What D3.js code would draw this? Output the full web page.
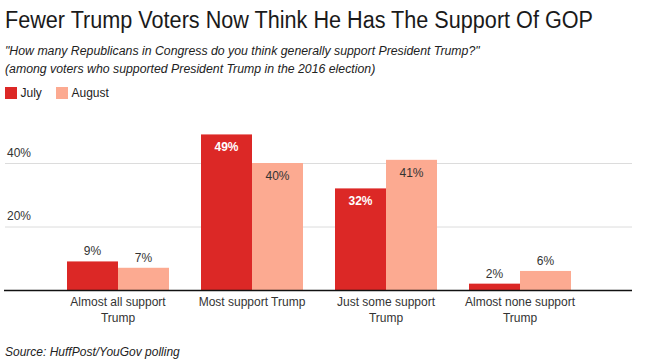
<!DOCTYPE html>
<html><head><meta charset="utf-8">
<script src="https://cdn.jsdelivr.net/npm/d3@7"></script>
<style>body{margin:0;background:#fff}svg{display:block;font-family:"Liberation Sans",Arial,Helvetica,sans-serif}</style>
</head><body><svg id="c" width="657" height="362"></svg>
<script>
const categories = [["Almost all support","Trump"],["Most support Trump"],["Just some support","Trump"],["Almost none support","Trump"]];
const seriesNames = ["July","August"];
const july = [9,49,32,2];
const august = [7,40,41,6];
const yTicks = [20,40];
const colors = ["#dc2826","#fcaa91"];

const svg = d3.select("#c");
const catKeys = categories.map(d=>d.join(" "));
const x0 = d3.scaleBand().domain(catKeys).range([51,587]).paddingInner(0.2388).paddingOuter(0.1194);
const x1 = d3.scaleBand().domain(seriesNames).range([0,x0.bandwidth()]);
const y = d3.scaleLinear().domain([0,50]).range([290,131.25]);

// title
svg.append("text").attr("x",5).attr("y",27.5).attr("font-size",23.5).attr("fill","#1a1a1a")
  .attr("textLength",588).attr("lengthAdjust","spacingAndGlyphs")
  .text("Fewer Trump Voters Now Think He Has The Support Of GOP");
svg.append("text").attr("x",5).attr("y",54.5).attr("font-size",12.3).attr("font-style","italic").attr("fill","#222")
  .text("\"How many Republicans in Congress do you think generally support President Trump?\"");
svg.append("text").attr("x",5).attr("y",72.5).attr("font-size",12.3).attr("font-style","italic").attr("fill","#222")
  .text("(among voters who supported President Trump in the 2016 election)");

// legend
const leg = svg.append("g");
const legX = [5,56];
seriesNames.forEach((s,i)=>{
  leg.append("rect").attr("x",legX[i]).attr("y",87).attr("width",12).attr("height",12).attr("fill",colors[i]);
  leg.append("text").attr("x",legX[i]+15.5).attr("y",97).attr("font-size",12).attr("fill","#222").text(s);
});

// gridlines
const yAxis = d3.axisLeft(y).tickValues(yTicks).tickSize(-627).tickFormat(d=>d+"%");
const ga = svg.append("g").attr("transform","translate(5,0)").call(yAxis);
ga.select(".domain").remove();
ga.selectAll(".tick line").attr("stroke","#dcdcdc").attr("stroke-width",1);
ga.selectAll(".tick text").attr("x",2).attr("dy","-0.55em").attr("text-anchor","start")
  .attr("font-size",12).attr("fill","#333").attr("font-family","Liberation Sans, Arial, sans-serif");

// bars
const data = catKeys.map((k,i)=>({key:k, vals:[{s:"July",v:july[i]},{s:"August",v:august[i]}]}));
const g = svg.append("g").selectAll("g").data(data).join("g").attr("transform",d=>`translate(${x0(d.key)},0)`);
g.selectAll("rect").data(d=>d.vals).join("rect")
  .attr("x",d=>x1(d.s)).attr("width",x1.bandwidth())
  .attr("y",d=>y(d.v)).attr("height",d=>y(0)-y(d.v))
  .attr("fill",(d,i)=>colors[i]);
g.selectAll("text").data(d=>d.vals).join("text")
  .attr("x",d=>x1(d.s)+x1.bandwidth()/2)
  .attr("y",d=>d.v>=30 ? y(d.v)+17 : y(d.v)-6)
  .attr("text-anchor","middle").attr("font-size",12)
  .attr("font-weight",d=>d.v>=30 && d.s==="July" ? "bold" : "normal")
  .attr("fill",d=>d.v>=30 && d.s==="July" ? "#fff" : "#333")
  .text(d=>d.v+"%");

// baseline + x labels
const xAxis = d3.axisBottom(x0).tickSize(0).tickFormat("");
const xa = svg.append("g").attr("transform","translate(0,290)").call(xAxis);
xa.select(".domain").remove();
svg.append("line").attr("x1",4).attr("x2",632).attr("y1",290.5).attr("y2",290.5).attr("stroke","#111").attr("stroke-width",1.3);
xa.selectAll(".tick").each(function(d,i){
  const t = d3.select(this).append("text").attr("text-anchor","middle").attr("font-size",12).attr("fill","#333")
    .attr("font-family","Liberation Sans, Arial, sans-serif");
  categories[i].forEach((line,j)=>t.append("tspan").attr("x",0).attr("y",16+j*16).text(line));
});

// source
svg.append("text").attr("x",5).attr("y",356).attr("font-size",12).attr("font-style","italic").attr("fill","#222")
  .text("Source: HuffPost/YouGov polling");
</script></body></html>
